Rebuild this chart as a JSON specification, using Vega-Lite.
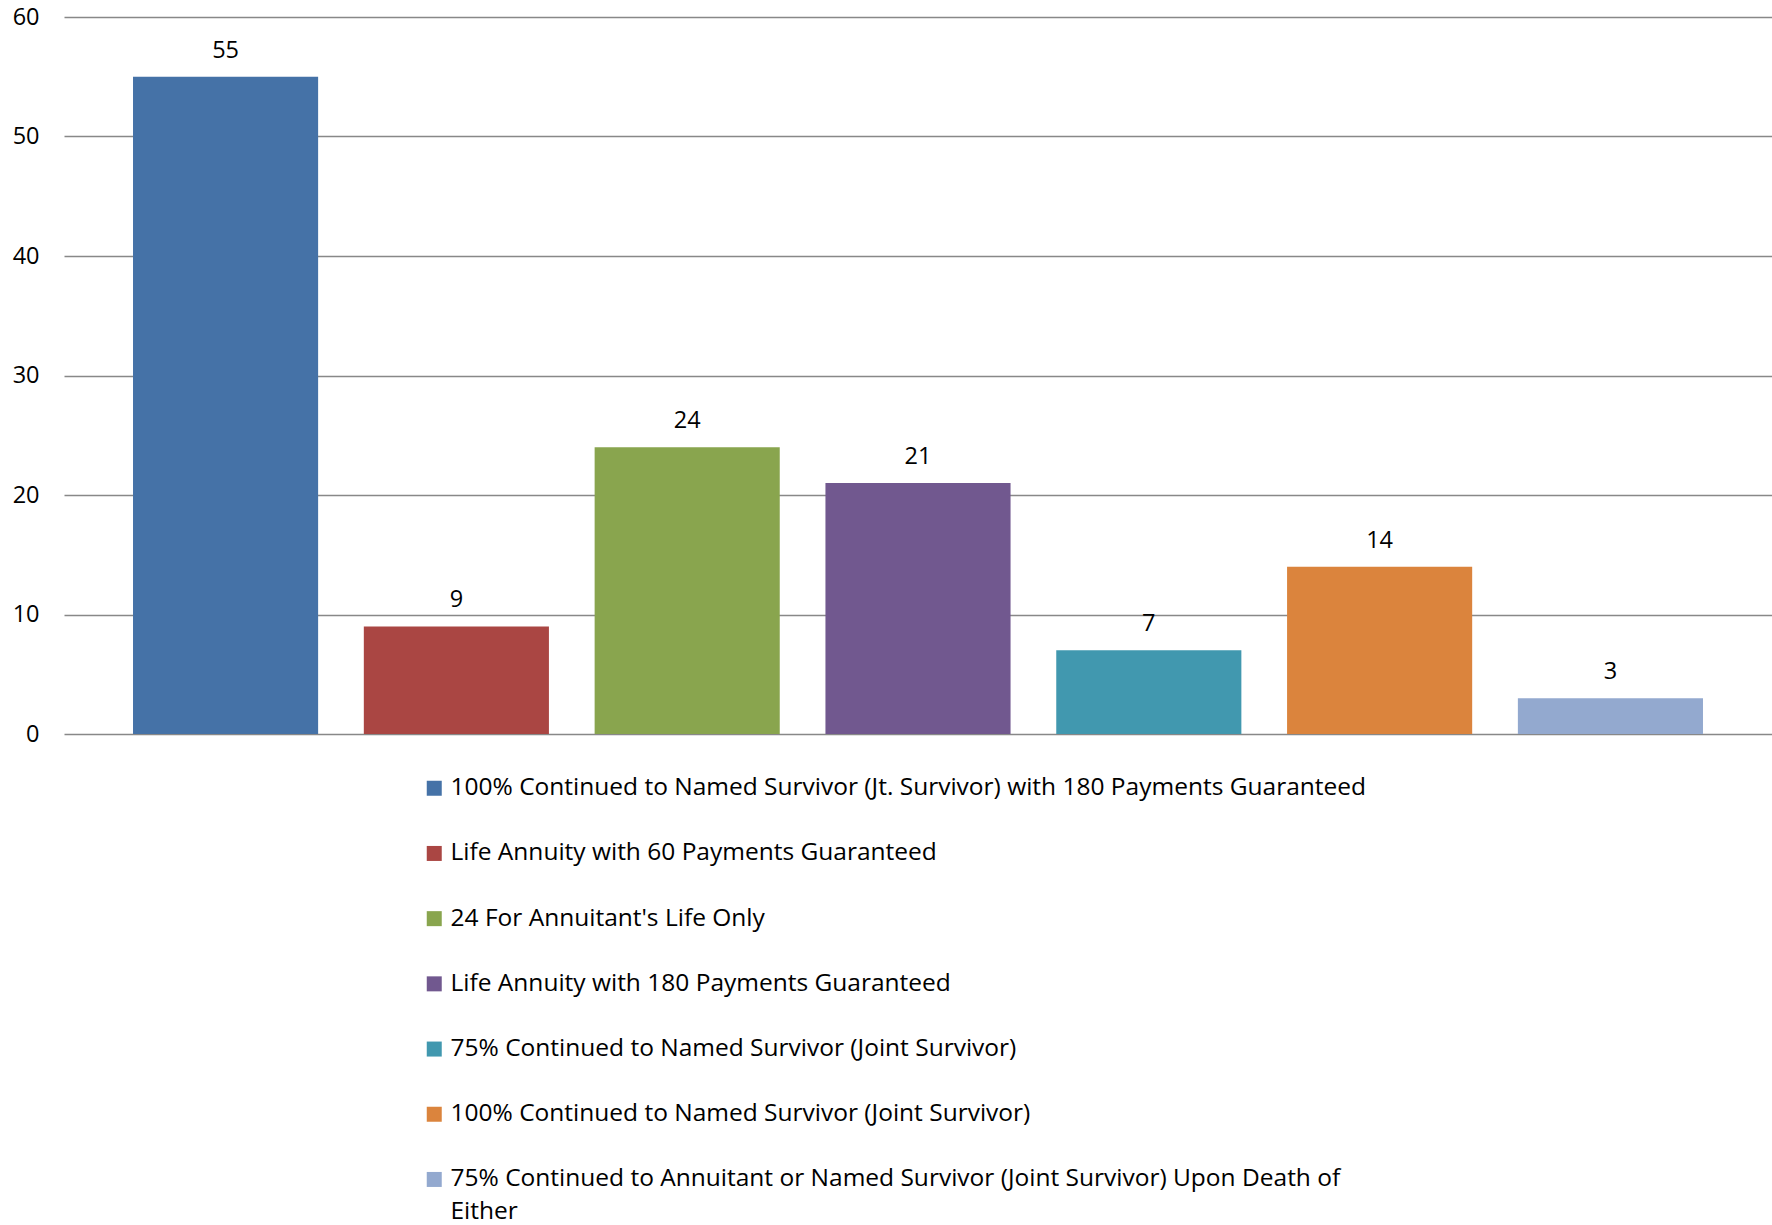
{
  "$schema": "https://vega.github.io/schema/vega-lite/v6.json",
  "width": 1708,
  "height": 717,
  "autosize": {"type": "none"},
  "padding": {"left": 64, "top": 17, "right": 0, "bottom": 491},
  "background": "white",
  "config": {
    "font": "Open Sans",
    "view": {"stroke": null}
  },
  "data": {
    "values": [
      {"option": "100% Continued to Named Survivor (Jt. Survivor) with 180 Payments Guaranteed", "count": 55},
      {"option": "Life Annuity with 60 Payments Guaranteed", "count": 9},
      {"option": "24 For Annuitant's Life Only", "count": 24},
      {"option": "Life Annuity with 180 Payments Guaranteed", "count": 21},
      {"option": "75% Continued to Named Survivor (Joint Survivor)", "count": 7},
      {"option": "100% Continued to Named Survivor (Joint Survivor)", "count": 14},
      {"option": "75% Continued to Annuitant or Named Survivor (Joint Survivor) Upon Death of Either", "count": 3}
    ]
  },
  "encoding": {
    "x": {
      "field": "option",
      "type": "nominal",
      "sort": null,
      "scale": {"paddingInner": 0.198, "paddingOuter": 0.299},
      "axis": null
    },
    "y": {
      "field": "count",
      "type": "quantitative",
      "scale": {"domain": [0, 60]},
      "axis": {
        "values": [0, 10, 20, 30, 40, 50, 60],
        "title": null,
        "domain": false,
        "ticks": false,
        "labelPadding": 25,
        "labelFontSize": 23.5,
        "labelColor": "#000000",
        "gridColor": "#888888",
        "gridWidth": 1.5,
        "gridOpacity": 1
      }
    }
  },
  "layer": [
    {
      "mark": {"type": "bar"},
      "encoding": {
        "color": {
          "field": "option",
          "type": "nominal",
          "sort": null,
          "scale": {
            "range": ["#4572A7", "#AA4643", "#89A54E", "#71588F", "#4198AF", "#DB843D", "#93A9CF"]
          },
          "legend": {
            "title": null,
            "orient": "none",
            "legendX": 358,
            "legendY": 759,
            "direction": "vertical",
            "columns": 1,
            "symbolType": "square",
            "symbolSize": 225,
            "symbolStrokeWidth": 0,
            "symbolOpacity": 1,
            "labelFontSize": 24.5,
            "labelColor": "#000000",
            "labelOffset": 4,
            "labelLimit": 1400,
            "rowPadding": 40.2,
            "labelExpr": "datum.label == '75% Continued to Annuitant or Named Survivor (Joint Survivor) Upon Death of Either' ? ['75% Continued to Annuitant or Named Survivor (Joint Survivor) Upon Death of', 'Either'] : datum.label",
            "encode": {
              "labels": {"update": {"lineHeight": {"value": 33}}}
            }
          }
        }
      }
    },
    {
      "mark": {"type": "text", "baseline": "alphabetic", "dy": -19, "fontSize": 23.5, "color": "#000000"},
      "encoding": {
        "text": {"field": "count", "type": "quantitative"}
      }
    }
  ]
}
